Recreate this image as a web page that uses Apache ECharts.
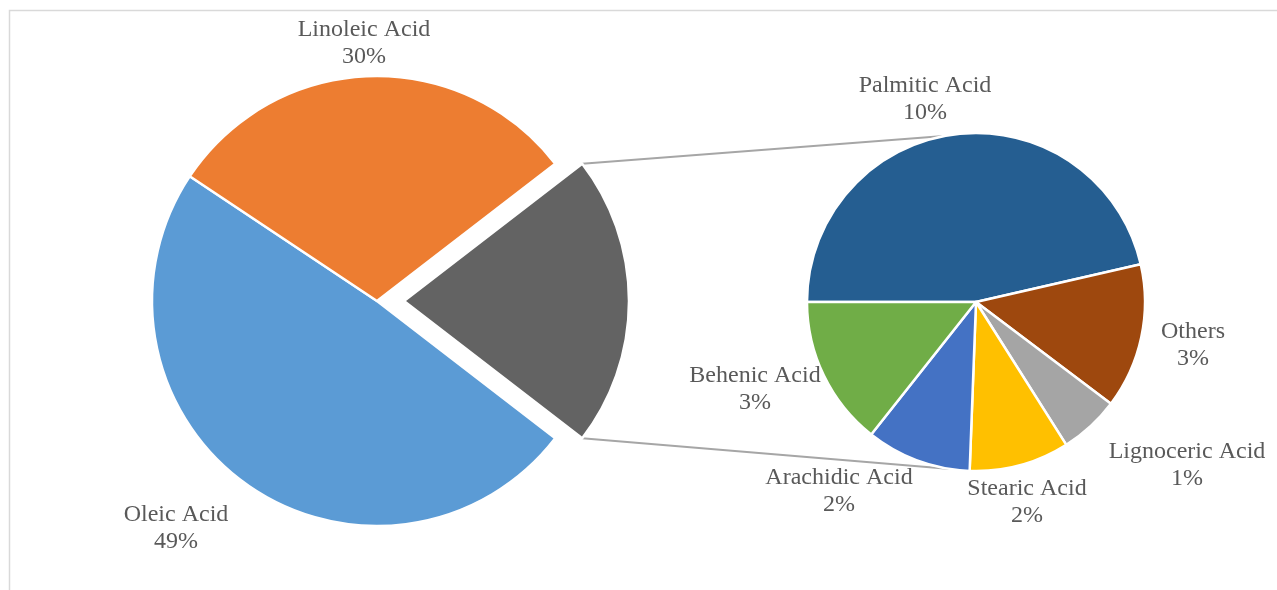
<!DOCTYPE html>
<html><head><meta charset="utf-8">
<script src="https://cdn.jsdelivr.net/npm/echarts@6/dist/echarts.min.js"></script>
<style>html,body{margin:0;padding:0;background:#fff}#c{width:1277px;height:590px}</style>
</head><body><div id="c"></div>
<script>
// ---- data ----
const subNames = ['Palmitic Acid', 'Others', 'Lignoceric Acid', 'Stearic Acid', 'Arachidic Acid', 'Behenic Acid'];
const subValues = [9.7, 2.9, 1.2, 2.0, 2.1, 3.0];
const mainNames = ['Other', 'Oleic Acid', 'Linoleic Acid'];
const otherValue = subValues.reduce((a, b) => a + b, 0);
const mainValues = [otherValue, 48.9, 30.2];

// ---- colours / layout ----
const mainColors = ['#636363', '#5B9BD5', '#ED7D31'];
const subColors = ['#255E91', '#9E480E', '#A5A5A5', '#FFC000', '#4472C4', '#70AD47'];
const mainCenter = [377, 301], mainR = 225, explode = 27;
const subCenter = [976, 302], subR = 169;
const labelAnchor = {
  'Linoleic Acid': [364, 43], 'Oleic Acid': [176, 528],
  'Palmitic Acid': [925, 99], 'Others': [1193, 345], 'Lignoceric Acid': [1187, 465],
  'Stearic Acid': [1027, 502], 'Arachidic Acid': [839, 491], 'Behenic Acid': [755, 389]
};

const total = mainValues.reduce((a, b) => a + b, 0);
const halfOther = otherValue / total * 180; // degrees
const rad = Math.PI / 180;

const labelStyle = {
  show: true, position: 'outside',
  formatter: p => p.name + '\n' + Math.round(p.value / total * 100) + '%',
  fontFamily: 'Liberation Serif', fontSize: 24, lineHeight: 27, color: '#595959'
};
function layoutFor(names) {
  return p => {
    const a = labelAnchor[names[p.dataIndex]];
    if (!a) return {};
    return { x: a[0], y: a[1], align: 'center', verticalAlign: 'middle' };
  };
}

// connector lines from exploded slice corners to secondary pie
const ox = mainCenter[0] + explode, oy = mainCenter[1];
const upStart = [ox + mainR * Math.cos(halfOther * rad), oy - mainR * Math.sin(halfOther * rad)];
const loStart = [ox + mainR * Math.cos(halfOther * rad), oy + mainR * Math.sin(halfOther * rad)];
const upEnd = [subCenter[0] + subR * Math.cos(259 * rad), subCenter[1] + subR * Math.sin(259 * rad)];
const loEnd = [subCenter[0] + subR * Math.cos(98.7 * rad), subCenter[1] + subR * Math.sin(98.7 * rad)];

const chart = echarts.init(document.getElementById('c'));
chart.setOption({
  animation: false,
  backgroundColor: '#fff',
  graphic: [
    { type: 'rect', z: 0, shape: { x: 9.5, y: 10.5, width: 1300, height: 620 },
      style: { fill: 'none', stroke: '#d9d9d9', lineWidth: 1.5 } },
    { type: 'line', z: 1, shape: { x1: upStart[0], y1: upStart[1], x2: upEnd[0], y2: upEnd[1] },
      style: { stroke: '#a6a6a6', lineWidth: 2 } },
    { type: 'line', z: 1, shape: { x1: loStart[0], y1: loStart[1], x2: loEnd[0], y2: loEnd[1] },
      style: { stroke: '#a6a6a6', lineWidth: 2 } }
  ],
  series: [
    {
      type: 'pie', z: 2, center: mainCenter, radius: [0, mainR],
      startAngle: halfOther, clockwise: true, avoidLabelOverlap: false,
      selectedMode: 'single', selectedOffset: explode,
      emphasis: { disabled: true },
      itemStyle: { borderColor: '#fff', borderWidth: 2.5 },
      label: labelStyle, labelLine: { show: false },
      labelLayout: layoutFor(mainNames),
      data: mainNames.map((n, i) => ({
        name: n, value: mainValues[i], selected: i === 0,
        itemStyle: { color: mainColors[i] },
        label: i === 0 ? { show: false } : undefined
      }))
    },
    {
      type: 'pie', z: 2, center: subCenter, radius: [0, subR],
      startAngle: 180, clockwise: true, avoidLabelOverlap: false,
      emphasis: { disabled: true },
      itemStyle: { borderColor: '#fff', borderWidth: 2.5 },
      label: labelStyle, labelLine: { show: false },
      labelLayout: layoutFor(subNames),
      data: subNames.map((n, i) => ({ name: n, value: subValues[i], itemStyle: { color: subColors[i] } }))
    }
  ]
});
</script></body></html>
